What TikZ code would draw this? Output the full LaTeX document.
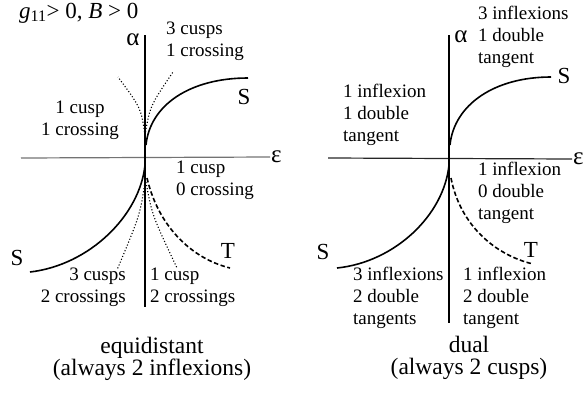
\documentclass[tikz,border=0pt]{standalone}
\usepackage{fontspec}
\setmainfont{Liberation Serif}
\tikzset{
  axis/.style={line width=2.6pt},
  hline/.style={line width=1.2pt, black!55},
  curve/.style={line width=1.6pt},
  tcurve/.style={curve, dash pattern=on 4.5pt off 2.5pt},
  cuspline/.style={line width=1.1pt, dotted},
  lbl/.style={font=\fontsize{19}{22}\selectfont, inner sep=0pt},
  big/.style={font=\fontsize{23}{23}\selectfont, inner sep=0pt},
  greek/.style={font=\fontsize{25}{25}\selectfont, inner sep=1pt},
  caption/.style={font=\fontsize{23.5}{22}\selectfont, align=center, inner sep=0pt},
}

\begin{document}
\begin{tikzpicture}[x=1pt,y=-1pt]
  \useasboundingbox (0,0) rectangle (585,394);
  \node[big, anchor=west] (cond) at (19,13) {\textit{g}\textsubscript{11}> 0, \textit{B} > 0};

  % equidistant
  \node[greek] (alpha1) at (133,40) {α};
  \node[greek, anchor=west] (eps1) at (270,157) {ε};
  \coordinate (h1) at (21,158);
  \coordinate (top1) at (145,35);
  \coordinate (bot1) at (145,307);
  \draw[hline] (h1) -- (eps1.west);
  \draw[axis] (top1) -- (bot1);
  \draw[cuspline] (145,135) .. controls (141,108) .. (118,77);
  \draw[cuspline] (145,135) .. controls (150,106) .. (173,72);
  \draw[cuspline] (145,182) .. controls (140,215) .. (117,270);
  \draw[cuspline] (146,182) .. controls (152,215) .. (177,268);
  \draw[curve] (146,145) .. controls (150,105) and (190,78) .. (248,78);
  \draw[curve] (145,165) .. controls (140,215) and (90,265) .. (30,272);
  \draw[tcurve] (147,178) .. controls (158,225) and (190,258) .. (230,268);
  \node[big] (s1a) at (244,97) {S};
  \node[big] (s1b) at (17,258) {S};
  \node[big] (t1) at (228,251) {T};
  \node[lbl, align=left, anchor=west] (r1a) at (166,41) {3 cusps\\1 crossing};
  \node[lbl, align=center] (r1b) at (80,120) {1 cusp\\1 crossing};
  \node[lbl, align=left, anchor=west] (r1c) at (176,180) {1 cusp\\0 crossing};
  \node[lbl, align=right, anchor=east] (r1d) at (126,287) {3 cusps\\2 crossings};
  \node[lbl, align=left, anchor=west] (r1e) at (150,287) {1 cusp\\2 crossings};
  \node[caption] (cap1) at (152,359) {equidistant\\(always 2 inflexions)};

  % dual
  \node[greek] (alpha2) at (461,37) {α};
  \node[greek, anchor=west] (eps2) at (572,159) {ε};
  \coordinate (h2) at (328,158);
  \coordinate (top2) at (449,35);
  \coordinate (bot2) at (449,323);
  \draw[hline, black!85] (h2) -- (eps2.west);
  \draw[axis] (top2) -- (bot2);
  \draw[curve] (450,145) .. controls (454,105) and (494,77) .. (551,77);
  \draw[curve] (449,165) .. controls (444,215) and (395,262) .. (337,268);
  \draw[tcurve] (451,178) .. controls (460,225) and (495,255) .. (533,264);
  \node[big] (s2a) at (564,76) {S};
  \node[big] (s2b) at (323,252) {S};
  \node[big] (t2) at (531,250) {T};
  \node[lbl, align=left, anchor=west] (r2a) at (478,37) {3 inflexions\\1 double\\tangent};
  \node[lbl, align=left, anchor=west] (r2b) at (343,115) {1 inflexion\\1 double\\tangent};
  \node[lbl, align=left, anchor=west] (r2c) at (478,193) {1 inflexion\\0 double\\tangent};
  \node[lbl, align=left, anchor=west] (r2d) at (353,298) {3 inflexions\\2 double\\tangents};
  \node[lbl, align=left, anchor=west] (r2e) at (463,298) {1 inflexion\\2 double\\tangent};
  \node[caption] (cap2) at (469,358) {dual\\(always 2 cusps)};
\end{tikzpicture}
\end{document}
